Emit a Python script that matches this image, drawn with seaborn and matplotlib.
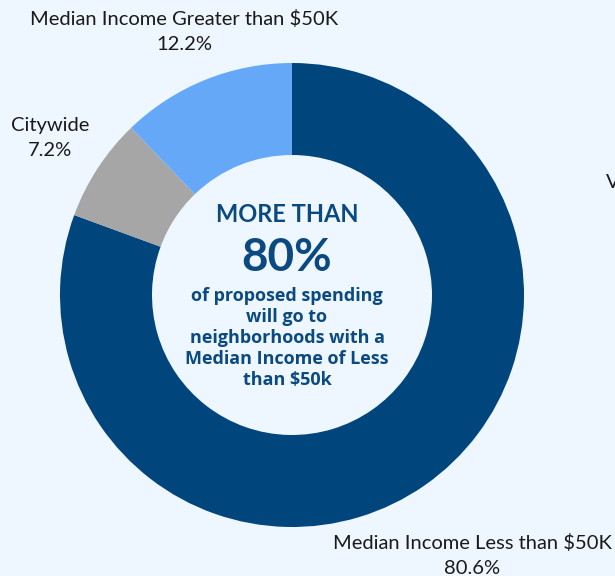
import matplotlib
matplotlib.use("Agg")
import matplotlib.pyplot as plt
import seaborn as sns

# Data
categories = ["Median Income Less than $50K", "Citywide", "Median Income Greater than $50K"]
shares = [80.6, 7.2, 12.2]
colors = ["#00457c", "#a6a6a6", "#66a8f8"]

bg = "#eef6ff"
navy_text = "#0b4a80"

sns.set_theme(style="white")
plt.rcParams["font.family"] = ["Lato", "DejaVu Sans"]

W, H = 615, 576
fig = plt.figure(figsize=(W / 100, H / 100), dpi=100, facecolor=bg)
ax = fig.add_axes([0, 0, 1, 1])
ax.set_facecolor(bg)

# donut, pixel coordinates (y measured from the bottom)
cx, cy, r = 292, H - 295, 232
ax.pie(shares, colors=colors, startangle=90, counterclock=False,
       center=(cx, cy), radius=r, frame=True,
       wedgeprops=dict(width=r - 140, linewidth=0))
ax.set_xlim(0, W)
ax.set_ylim(0, H)
ax.set_aspect("equal")
ax.axis("off")

# outside labels
def label(x, y, name, val):
    ax.text(x, H - y, name, ha="center", va="center", fontsize=14.5, color="#1a1a1a")
    ax.text(x, H - y - 25, f"{val:.1f}%", ha="center", va="center", fontsize=14.5, color="#1a1a1a")

label(184, 19, categories[2], shares[2])
label(50, 126, categories[1], shares[1])
label(472, 543, categories[0], shares[0])
ax.text(606, H - 183, "V", ha="left", va="center", fontsize=14.5, color="#1a1a1a")

# centre text
ax.text(287, H - 215, "MORE THAN", ha="center", va="center", fontsize=17,
        fontweight="bold", color=navy_text)
ax.text(287, H - 258, "80%", ha="center", va="center", fontsize=33,
        fontweight="bold", color=navy_text)
body = ["of proposed spending", "will go to", "neighborhoods with a",
        "Median Income of Less", "than $50k"]
for i, line in enumerate(body):
    ax.text(287, H - (296 + i * 21), line, ha="center", va="center", fontsize=13,
            fontweight="bold", color=navy_text, family=["Open Sans", "DejaVu Sans"])

fig.savefig("out.png", dpi=100, facecolor=bg)
